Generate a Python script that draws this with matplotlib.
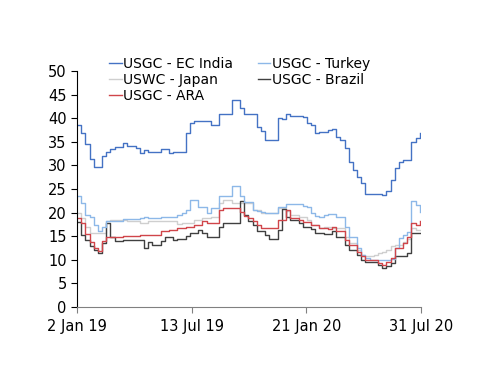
import numpy as np
import pandas as pd
import matplotlib
matplotlib.use("Agg")
import matplotlib.pyplot as plt

# weekly freight rates
dates = pd.date_range("2019-01-02", periods=83, freq="7D")

ec_india = [38.6, 36.8, 34.5, 31.3, 29.7, 29.7, 31.9, 32.9, 33.4, 33.8,
            33.8, 34.7, 34.1, 34.1, 33.6, 32.6, 33.3, 32.9, 32.9, 32.9,
            33.4, 33.4, 32.6, 32.9, 32.9, 32.9, 36.8, 38.9, 39.4, 39.4,
            39.4, 39.4, 38.6, 38.6, 40.9, 40.9, 40.9, 43.9, 43.9, 42.1,
            40.9, 40.9, 40.9, 38.2, 37.2, 35.4, 35.4, 35.4, 40.1, 39.8,
            40.9, 40.5, 40.5, 40.5, 40.3, 39.0, 38.6, 36.8, 37.0, 37.0,
            37.5, 37.8, 36.1, 35.4, 33.6, 30.8, 29.0, 27.6, 26.2, 23.9,
            23.9, 23.9, 23.9, 23.7, 24.5, 26.9, 29.4, 30.8, 31.1, 31.1,
            35.0, 35.7, 36.8]

turkey = [23.5, 22.0, 19.5, 19.1, 17.4, 16.0, 17.0, 18.1, 18.3, 18.3,
          18.3, 18.6, 18.6, 18.6, 18.6, 18.8, 19.1, 18.8, 18.8, 18.8,
          19.0, 19.0, 19.0, 19.0, 19.5, 20.0, 20.6, 22.7, 22.7, 21.2,
          21.2, 19.8, 20.9, 20.9, 23.4, 23.4, 23.4, 25.6, 25.6, 23.4,
          22.3, 22.3, 20.6, 20.4, 20.2, 19.8, 19.8, 19.8, 21.2, 21.2,
          21.8, 21.8, 21.8, 21.8, 21.4, 21.2, 19.8, 19.3, 19.0, 19.5,
          19.7, 19.7, 19.0, 19.0, 17.0, 14.9, 14.9, 12.4, 11.0, 10.3,
          10.0, 10.0, 10.0, 10.0, 10.0, 10.1, 12.5, 14.5, 15.3, 15.8,
          22.4, 21.6, 20.2]

japan = [19.8, 18.8, 17.0, 15.6, 15.6, 15.6, 15.6, 18.1, 18.4, 18.4,
         18.4, 18.4, 18.1, 18.1, 18.1, 17.7, 17.7, 18.1, 18.1, 18.1,
         18.1, 18.1, 18.1, 18.1, 17.6, 17.7, 17.7, 17.7, 18.4, 18.4,
         18.8, 18.8, 19.1, 19.1, 22.0, 22.7, 22.7, 22.1, 22.1, 22.0,
         22.0, 22.0, 20.6, 20.6, 20.0, 20.0, 20.0, 20.0, 20.9, 20.9,
         20.4, 19.5, 19.5, 19.1, 19.1, 18.4, 17.4, 17.4, 16.7, 17.0,
         17.0, 16.7, 16.7, 16.7, 14.9, 13.5, 13.5, 12.1, 11.0, 10.7,
         10.7, 11.0, 11.4, 11.7, 12.1, 12.8, 13.1, 13.1, 13.8, 14.3,
         16.7, 16.3, 16.3]

ara = [18.8, 17.7, 15.5, 13.8, 12.4, 11.9, 14.0, 14.9, 14.8, 14.8,
       14.8, 15.0, 15.0, 15.0, 15.0, 15.3, 15.3, 15.3, 15.3, 15.3,
       16.0, 16.0, 16.3, 16.3, 16.7, 16.7, 17.0, 17.0, 17.4, 17.4,
       18.1, 17.7, 17.7, 17.7, 20.6, 20.9, 20.9, 20.9, 20.9, 20.2,
       19.3, 18.8, 18.1, 17.4, 16.7, 16.7, 16.7, 16.7, 18.4, 18.4,
       20.6, 18.8, 18.8, 18.4, 17.9, 17.9, 17.4, 17.4, 16.7, 16.7,
       16.5, 16.9, 16.0, 16.0, 14.2, 13.1, 13.1, 11.7, 10.7, 10.0,
       10.0, 10.0, 9.4, 8.9, 9.6, 10.3, 12.4, 12.4, 13.5, 14.9,
       17.7, 17.4, 18.3]

brazil = [18.0, 15.3, 14.2, 12.8, 12.1, 11.4, 13.5, 17.7, 14.9, 14.0,
          14.0, 14.2, 14.2, 14.2, 14.2, 14.2, 12.4, 13.8, 13.1, 13.1,
          14.0, 14.8, 14.8, 14.2, 14.4, 14.4, 15.0, 15.6, 15.6, 16.3,
          15.6, 14.9, 14.9, 14.9, 17.0, 17.7, 17.7, 17.7, 17.7, 22.5,
          19.5, 18.1, 17.4, 16.0, 16.0, 15.3, 14.3, 14.3, 16.3, 20.7,
          19.1, 18.4, 18.4, 17.7, 17.0, 17.0, 16.5, 15.7, 15.7, 15.5,
          15.5, 16.0, 14.9, 14.9, 13.1, 12.1, 12.1, 11.0, 10.0, 9.6,
          9.6, 9.6, 8.9, 8.2, 8.7, 9.4, 10.7, 10.7, 10.7, 11.4,
          15.6, 15.7, 15.7]

labels = ["USGC - EC India", "USGC - Turkey", "USWC - Japan",
          "USGC - Brazil", "USGC - ARA"]
colors = ["#4472C4", "#8DB8E8", "#CFCFCF", "#404040", "#D0454A"]
series = [ec_india, turkey, japan, brazil, ara]

fig = plt.figure(figsize=(5, 3.86), dpi=100)
ax = fig.add_axes([0.154, 0.205, 0.688, 0.611])

# greys underneath the coloured lines
order = [2, 3, 1, 4, 0]
handles = {}
for k in order:
    h, = ax.step(dates, series[k], where="post", color=colors[k], lw=1.0,
                 label=labels[k])
    handles[k] = h

ax.set_ylim(0, 50)
ax.set_yticks(np.arange(0, 51, 5))
start = pd.Timestamp("2019-01-02")
end = pd.Timestamp("2020-07-31")
ax.set_xlim(start, end)
xt = [start + pd.Timedelta(days=192 * i) for i in range(4)]
ax.set_xticks(xt)
ax.set_xticklabels([d.strftime("%-d %b %y") for d in xt])

for s in ["top", "right"]:
    ax.spines[s].set_visible(False)
ax.spines["left"].set_color("black")
ax.spines["bottom"].set_color("#808080")
ax.tick_params(axis="y", direction="out", length=4, labelsize=10.5, color="black")
ax.tick_params(axis="x", direction="out", length=4, labelsize=10.5, color="#808080",
               pad=5)

# legend is filled column by column, so reorder to read row by row
leg_order = [0, 2, 4, 1, 3]
fig.legend([handles[k] for k in leg_order], [labels[k] for k in leg_order],
           ncol=2, loc="upper left", bbox_to_anchor=(0.218, 0.852),
           frameon=False, fontsize=10, handlelength=0.9, handletextpad=0.1,
           labelspacing=0.15, columnspacing=1.8, borderaxespad=0, borderpad=0)

fig.savefig("out.png", dpi=100)
